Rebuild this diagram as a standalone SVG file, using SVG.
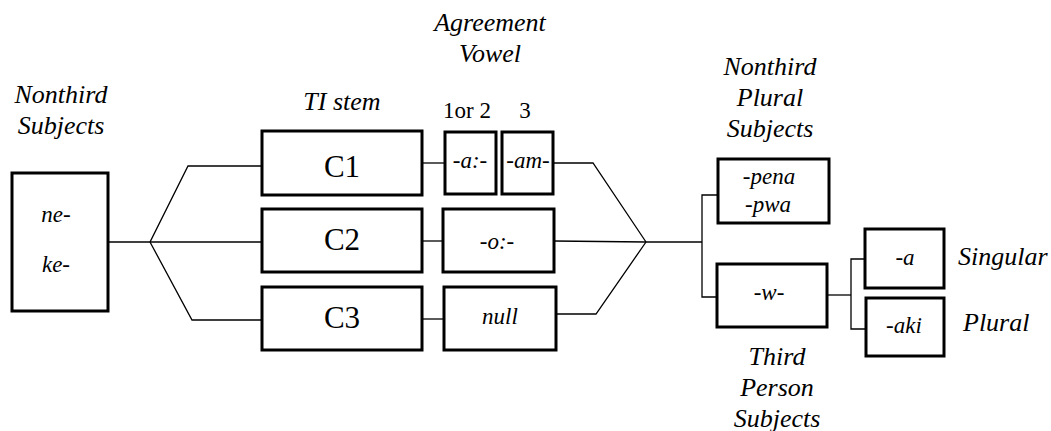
<svg xmlns="http://www.w3.org/2000/svg" width="1051" height="431" viewBox="0 0 1051 431">
<style>
.box{fill:#fff;stroke:#000;stroke-width:3}
.ln{fill:none;stroke:#000;stroke-width:1.3}
.lab{font-style:italic;font-size:26px}
.in{font-style:italic;font-size:23px}
.big{font-size:31px}
.num{font-size:23px}
</style>
<rect width="1051" height="431" fill="#fff"/>
<g id="connectors">
<polyline class="ln" points="108,242 150,242 188,166 262,166"/>
<polyline class="ln" points="150,242 262,242"/>
<polyline class="ln" points="150,242 192,320 262,320"/>
<line class="ln" x1="422" y1="163" x2="445" y2="163"/>
<line class="ln" x1="422" y1="241" x2="443" y2="241"/>
<line class="ln" x1="422" y1="319" x2="444" y2="319"/>
<polyline class="ln" points="553,163 593,163 646,242"/>
<polyline class="ln" points="554,241 646,242"/>
<polyline class="ln" points="556,314 596,314 646,242"/>
<polyline class="ln" points="646,242 702,242"/>
<polyline class="ln" points="718,195 702,195 702,297 717,297"/>
<polyline class="ln" points="827,295 851,295"/>
<polyline class="ln" points="865,259 851,259 851,329 866,329"/>
</g>
<g font-family="Liberation Serif, serif" text-anchor="middle" fill="#000">
<g id="labels">
<text class="lab" x="61" y="103">Nonthird</text>
<text class="lab" x="61" y="134">Subjects</text>
<text class="lab" x="342" y="110">TI stem</text>
<text class="lab" x="490" y="31">Agreement</text>
<text class="lab" x="490" y="62">Vowel</text>
<text class="num" x="467" y="118">1or 2</text>
<text class="num" x="525" y="118">3</text>
<text class="lab" x="770" y="75">Nonthird</text>
<text class="lab" x="770" y="106">Plural</text>
<text class="lab" x="770" y="137">Subjects</text>
<text class="lab" x="777" y="365">Third</text>
<text class="lab" x="777" y="396">Person</text>
<text class="lab" x="777" y="427">Subjects</text>
<text class="lab" x="958" y="265" text-anchor="start">Singular</text>
<text class="lab" x="963" y="331" text-anchor="start">Plural</text>
</g>
<g id="nonthird-subjects">
<rect class="box" x="12" y="173" width="96" height="138"/>
<text class="in" x="56" y="222">ne-</text>
<text class="in" x="56" y="272">ke-</text>
</g>
<g id="c1">
<rect class="box" x="262" y="131" width="160" height="64"/>
<text class="big" x="342" y="177">C1</text>
</g>
<g id="c2">
<rect class="box" x="262" y="209" width="160" height="63"/>
<text class="big" x="342" y="250">C2</text>
</g>
<g id="c3">
<rect class="box" x="262" y="287" width="160" height="63"/>
<text class="big" x="342" y="328">C3</text>
</g>
<g id="av-a">
<rect class="box" x="445" y="132" width="51" height="62"/>
<text class="in" x="470" y="168">-a:-</text>
</g>
<g id="av-am">
<rect class="box" x="502" y="132" width="51" height="62"/>
<text class="in" x="528" y="168">-am-</text>
</g>
<g id="av-o">
<rect class="box" x="443" y="209" width="111" height="63"/>
<text class="in" x="497" y="249">-o:-</text>
</g>
<g id="av-null">
<rect class="box" x="444" y="287" width="112" height="63"/>
<text class="in" x="500" y="324">null</text>
</g>
<g id="pena">
<rect class="box" x="718" y="159" width="111" height="64"/>
<text class="in" x="769" y="184">-pena</text>
<text class="in" x="768" y="212">-pwa</text>
</g>
<g id="w">
<rect class="box" x="717" y="264" width="110" height="63"/>
<text class="in" x="769" y="300">-w-</text>
</g>
<g id="sg-a">
<rect class="box" x="865" y="229" width="79" height="59"/>
<text class="in" x="905" y="265">-a</text>
</g>
<g id="pl-aki">
<rect class="box" x="866" y="298" width="78" height="58"/>
<text class="in" x="904" y="333">-aki</text>
</g>
</g>
</svg>
